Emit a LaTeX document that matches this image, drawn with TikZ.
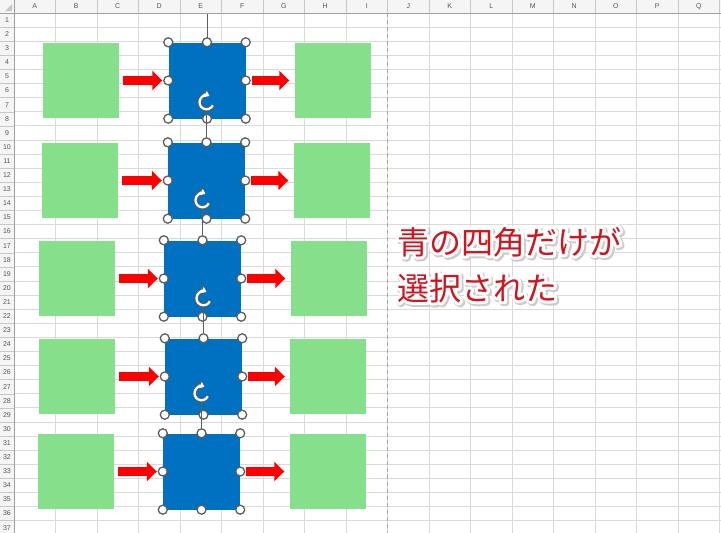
\documentclass[tikz,border=0pt]{standalone}
\usepackage{fontspec}
\setmainfont{Liberation Sans}
\newfontfamily\jpfont{Noto Sans CJK JP}
\usetikzlibrary{arrows.meta}

\definecolor{cellline}{HTML}{DADADA}
\definecolor{headfill}{HTML}{F5F5F5}
\definecolor{headline}{HTML}{C8C8C8}
\definecolor{headtext}{HTML}{595959}
\definecolor{boxgreen}{HTML}{86DF8B}
\definecolor{boxblue}{HTML}{0070C0}
\definecolor{handlegray}{HTML}{5E5E5E}
\definecolor{msgred}{HTML}{D2141E}

% outline-only text, for the halo under the message
\newcommand{\halo}[2]{\special{pdf:literal direct 1 Tr #1 w 1 j}#2\special{pdf:literal direct 0 Tr}}

\tikzset{
  greenbox/.style={fill=boxgreen, minimum width=76pt, minimum height=75pt, inner sep=0pt},
  bluebox/.style={fill=boxblue, minimum width=77pt, minimum height=76pt, inner sep=0pt},
  handle/.style={circle, draw=handlegray, fill=white, line width=1.3pt, minimum size=9pt, inner sep=0pt},
  knob/.style={circle, minimum size=16pt, inner sep=0pt},
  redarrow/.style={draw=red, line width=9pt, line cap=butt, -{Triangle[length=10pt,width=19pt]}},
  rotline/.style={draw=handlegray, line width=1pt},
  colhead/.style={font=\fontsize{7}{8}\selectfont, text=headtext, inner sep=0pt},
  rowhead/.style={font=\fontsize{7}{8}\selectfont, text=headtext, inner sep=0pt},
  msg/.style={font=\jpfont\fontsize{32}{32}\selectfont, anchor=base west, inner sep=0pt},
}

\begin{document}
\begin{tikzpicture}[x=1pt,y=-1pt]
\useasboundingbox (0,0) rectangle (721,533);
\fill[white] (0,0) rectangle (721,533);

% cell grid
\foreach \c in {0,...,17}
{
    \draw[cellline, line width=0.8pt] ({14+41.5*\c},13) -- ({14+41.5*\c},533);
}
\foreach \r in {0,...,37}
{
    \draw[cellline, line width=0.8pt] (14,{13+14.1*\r}) -- (721,{13+14.1*\r});
}

% page break
\draw[gray!70, line width=0.8pt, dash pattern=on 4pt off 3pt] (387,13) -- (387,533);

% green boxes
\node[greenbox] (gl1) at (81,80.5) {};
\node[greenbox] (gl2) at (80,180.5) {};
\node[greenbox] (gl3) at (77,278.5) {};
\node[greenbox] (gl4) at (77,376.5) {};
\node[greenbox] (gl5) at (76,471.5) {};

\node[greenbox] (gr1) at (332.5,80.5) {};
\node[greenbox] (gr2) at (331.5,180.5) {};
\node[greenbox] (gr3) at (328.5,278.5) {};
\node[greenbox] (gr4) at (328,376.5) {};
\node[greenbox] (gr5) at (327.5,471.5) {};

% blue boxes
\node[bluebox] (bl1) at (207,80.5) {};
\node[bluebox] (bl2) at (206.5,180.5) {};
\node[bluebox] (bl3) at (202.5,278.5) {};
\node[bluebox] (bl4) at (203.5,376.5) {};
\node[bluebox] (bl5) at (201.5,471.5) {};

% red arrows
\foreach \i in {1,...,5}
{
    \draw[redarrow, shorten <=4pt, shorten >=6pt] (gl\i.east) -- (bl\i.west);
    \draw[redarrow, shorten <=6pt, shorten >=5pt] (bl\i.east) -- (gr\i.west);
}

% selection handles
\foreach \i in {1,...,5}
{
    \node[knob] (kn\i) at ([yshift=40pt]bl\i.north) {};
    \draw[rotline] (kn\i.south) -- (bl\i.north);
    \draw[handlegray, line width=4pt, -{Triangle[length=6.5pt,width=9pt]}]
        ([shift={(25:7)}]kn\i.center) arc[start angle=25, end angle=295, radius=7];
    \draw[white, line width=2.2pt, -{Triangle[length=4.5pt,width=6.5pt]}]
        ([shift={(25:7)}]kn\i.center) arc[start angle=25, end angle=295, radius=7];
    \foreach \a/\n in {north west/nw, north/n, north east/ne, east/e,
                       south east/se, south/s, south west/sw, west/w}
    {
        \node[handle] (h\i\n) at (bl\i.\a) {};
    }
}

% message
\coordinate (msgA) at (397,254);
\coordinate (msgB) at (397,300);
\coordinate (msgAs) at (398.5,255.5);
\coordinate (msgBs) at (398.5,301.5);
\node[msg, text=black!20] (shA) at (msgAs) {\halo{7}{青の四角だけが}};
\node[msg, text=black!20] (shB) at (msgBs) {\halo{7}{選択された}};
\node[msg, text=white] (haA) at (msgA) {\halo{6}{青の四角だけが}};
\node[msg, text=white] (haB) at (msgB) {\halo{6}{選択された}};
\node[msg, text=msgred] (lineA) at (msgA) {青の四角だけが};
\node[msg, text=msgred] (lineB) at (msgB) {選択された};

% sheet headers
\fill[headfill] (0,0) rectangle (721,13);
\fill[headfill] (0,0) rectangle (14,533);
\foreach \c in {1,...,17}
{
    \draw[headline] ({14+41.5*\c},0) -- ({14+41.5*\c},13);
}
\foreach \r in {1,...,37}
{
    \draw[headline] (0,{13+14.1*\r}) -- (14,{13+14.1*\r});
}
\draw[headline!80!black] (0,13) -- (721,13);
\draw[headline!80!black] (14,0) -- (14,533);
\fill[headline] (12,4) -- (12,11) -- (5,11) -- cycle;

\foreach \l [count=\c] in {A,...,Q}
{
    \node[colhead] (col\l) at ({14+41.5*\c-20.75},6.5) {\l};
}
\foreach \r in {1,...,37}
{
    \node[rowhead] (row\r) at (7,{13+14.1*\r-7.05}) {\r};
}

\end{tikzpicture}
\end{document}
